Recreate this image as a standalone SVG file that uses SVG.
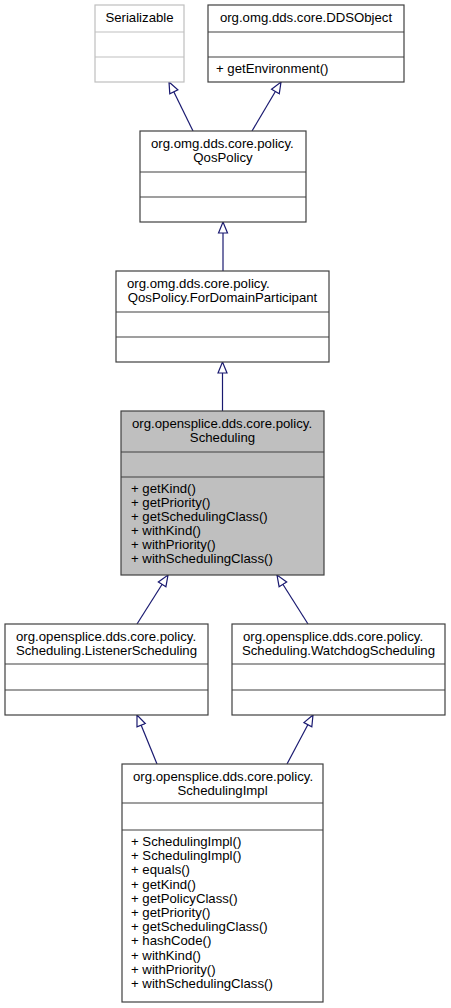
<svg xmlns="http://www.w3.org/2000/svg" width="451" height="1008" viewBox="0 0 451 1008">
<style>
text{font-family:"Liberation Sans",Arial,Helvetica,sans-serif;font-size:13.2px;fill:#000}
.c{text-anchor:middle}
.box{fill:#fff;stroke:#404040;stroke-width:1.2}
.ext{fill:#fff;stroke:#bfbfbf;stroke-width:1.2}
.cur{fill:#bfbfbf;stroke:#404040;stroke-width:1.2}
.sep{stroke:#404040;stroke-width:1.2}
.sepx{stroke:#bfbfbf;stroke-width:1.2}
.edge{stroke:#191970;stroke-width:1.2;fill:none;marker-end:url(#inh)}
</style>
<defs>
<marker id="inh" viewBox="-1 -6 14 12" refX="11" refY="0" markerWidth="14" markerHeight="12" markerUnits="userSpaceOnUse" orient="auto">
<path d="M0,-4.5 L11,0 L0,4.5 Z" fill="#fff" stroke="#191970" stroke-width="1.2"/>
</marker>
</defs>
<g id="connectors">
<line class="edge" x1="193" y1="131" x2="169" y2="82"/>
<line class="edge" x1="252" y1="131" x2="281" y2="82"/>
<line class="edge" x1="223" y1="271" x2="223" y2="222"/>
<line class="edge" x1="222.5" y1="411" x2="222.5" y2="362"/>
<line class="edge" x1="137" y1="624" x2="168" y2="575"/>
<line class="edge" x1="308" y1="624" x2="277" y2="575"/>
<line class="edge" x1="157" y1="764" x2="137" y2="715"/>
<line class="edge" x1="287" y1="764" x2="313" y2="715"/>
</g>
<g id="serializable">
<rect class="ext" x="95" y="5" width="89" height="77"/>
<line class="sepx" x1="95" y1="32" x2="184" y2="32"/>
<line class="sepx" x1="95" y1="57" x2="184" y2="57"/>
<text class="c" x="139.5" y="22">Serializable</text>
</g>
<g id="ddsobject">
<rect class="box" x="208" y="5" width="196" height="77"/>
<line class="sep" x1="208" y1="32" x2="404" y2="32"/>
<line class="sep" x1="208" y1="57" x2="404" y2="57"/>
<text class="c" x="306" y="22">org.omg.dds.core.DDSObject</text>
<text x="216" y="73">+ getEnvironment()</text>
</g>
<g id="qospolicy">
<rect class="box" x="140" y="131" width="166" height="91"/>
<line class="sep" x1="140" y1="172" x2="306" y2="172"/>
<line class="sep" x1="140" y1="197" x2="306" y2="197"/>
<text x="151" y="148">org.omg.dds.core.policy.</text>
<text class="c" x="223" y="162">QosPolicy</text>
</g>
<g id="fordomainparticipant">
<rect class="box" x="116" y="271" width="213" height="91"/>
<line class="sep" x1="116" y1="312" x2="329" y2="312"/>
<line class="sep" x1="116" y1="337" x2="329" y2="337"/>
<text x="127" y="288">org.omg.dds.core.policy.</text>
<text class="c" x="222.5" y="302">QosPolicy.ForDomainParticipant</text>
</g>
<g id="scheduling">
<rect class="cur" x="121" y="411" width="203" height="164"/>
<line class="sep" x1="121" y1="452" x2="324" y2="452"/>
<line class="sep" x1="121" y1="477" x2="324" y2="477"/>
<text x="132" y="428">org.opensplice.dds.core.policy.</text>
<text class="c" x="222.5" y="442">Scheduling</text>
<text x="131" y="493">+ getKind()</text>
<text x="131" y="507">+ getPriority()</text>
<text x="131" y="521">+ getSchedulingClass()</text>
<text x="131" y="535">+ withKind()</text>
<text x="131" y="549">+ withPriority()</text>
<text x="131" y="563">+ withSchedulingClass()</text>
</g>
<g id="listenerscheduling">
<rect class="box" x="5" y="624" width="203" height="91"/>
<line class="sep" x1="5" y1="664" x2="208" y2="664"/>
<line class="sep" x1="5" y1="690" x2="208" y2="690"/>
<text x="16" y="641">org.opensplice.dds.core.policy.</text>
<text class="c" x="106.5" y="655">Scheduling.ListenerScheduling</text>
</g>
<g id="watchdogscheduling">
<rect class="box" x="232" y="624" width="213" height="91"/>
<line class="sep" x1="232" y1="664" x2="445" y2="664"/>
<line class="sep" x1="232" y1="690" x2="445" y2="690"/>
<text x="243" y="641">org.opensplice.dds.core.policy.</text>
<text class="c" x="338.5" y="655">Scheduling.WatchdogScheduling</text>
</g>
<g id="schedulingimpl">
<rect class="box" x="122" y="764" width="201" height="238"/>
<line class="sep" x1="122" y1="803" x2="323" y2="803"/>
<line class="sep" x1="122" y1="830" x2="323" y2="830"/>
<text x="133" y="781">org.opensplice.dds.core.policy.</text>
<text class="c" x="222.5" y="795">SchedulingImpl</text>
<text x="131" y="846">+ SchedulingImpl()</text>
<text x="131" y="860.2">+ SchedulingImpl()</text>
<text x="131" y="874.4">+ equals()</text>
<text x="131" y="888.6">+ getKind()</text>
<text x="131" y="902.8">+ getPolicyClass()</text>
<text x="131" y="917">+ getPriority()</text>
<text x="131" y="931.2">+ getSchedulingClass()</text>
<text x="131" y="945.4">+ hashCode()</text>
<text x="131" y="959.6">+ withKind()</text>
<text x="131" y="973.8">+ withPriority()</text>
<text x="131" y="988">+ withSchedulingClass()</text>
</g>
</svg>
